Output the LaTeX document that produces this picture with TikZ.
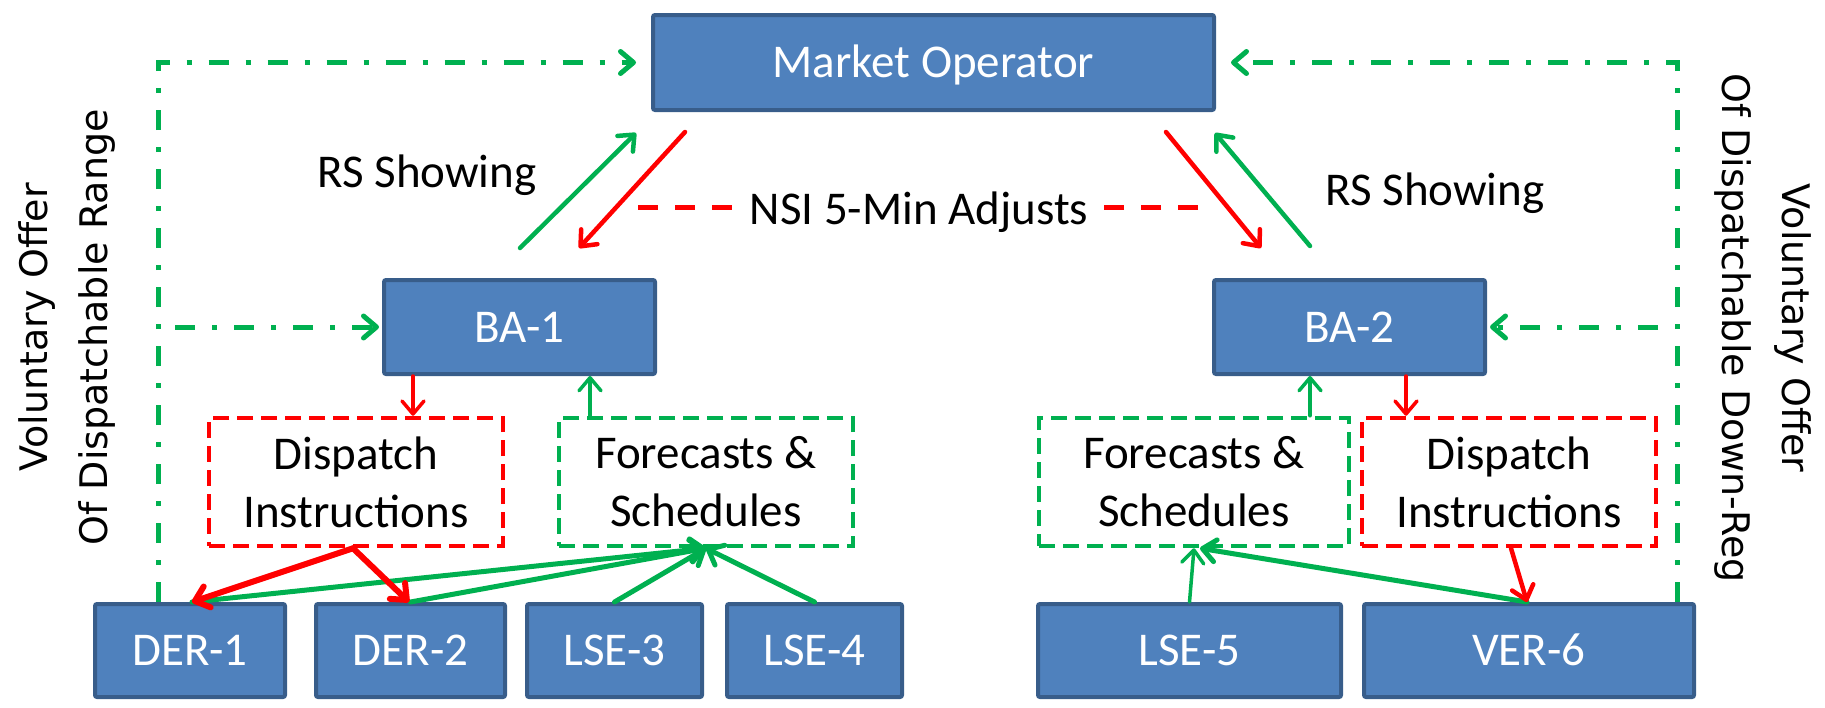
\documentclass[tikz,border=0pt]{standalone}
\usepackage{fontspec}
\setmainfont{Carlito}
\newfontfamily\vertfont{DejaVu Sans}
\usetikzlibrary{arrows.meta}
\definecolor{boxfill}{HTML}{4F81BD}
\definecolor{boxline}{HTML}{385D8A}
\definecolor{pgreen}{HTML}{00B050}
\definecolor{pred}{HTML}{FF0000}
\begin{document}
\begin{tikzpicture}[x=1pt,y=-1pt,
  solidbox/.style={draw=boxline, fill=boxfill, line width=4pt, rounded corners=2pt, text=white,
    font=\fontsize{47}{56}\selectfont, inner sep=0pt, text height=30pt, text depth=0pt},
  dashbox/.style={draw=#1, line width=4.5pt, dash pattern=on 16pt off 8pt,
    font=\fontsize{47}{58}\selectfont, align=center, inner sep=0pt},
  lbl/.style={font=\fontsize{47}{56}\selectfont, anchor=base},
  vlbl/.style={font=\vertfont\fontsize{38}{60}\selectfont, align=center},
  tipa/.style={-{Straight Barb[length=13pt,width=22pt,round]}},
  ddline/.style={draw=pgreen, line width=5pt, dash pattern=on 20pt off 17pt on 5pt off 17pt, tipa},
  garrow/.style={draw=pgreen, line width=4.5pt, tipa, line cap=round},
  rarrow/.style={draw=pred, line width=4.5pt, tipa, line cap=round},
  thin/.style={line width=3.5pt},
  nsiline/.style={draw=pred, line width=5pt, dash pattern=on 20pt off 17pt},
]
\useasboundingbox (0,0) rectangle (1825,707);

% solid boxes
\node[solidbox, minimum width=561pt, minimum height=95pt] (mo) at (933.5,62.5) {Market Operator};
\node[solidbox, minimum width=271pt, minimum height=94pt] (ba1) at (519.5,327) {BA-1};
\node[solidbox, minimum width=271pt, minimum height=94pt] (ba2) at (1349.5,327) {BA-2};
\node[solidbox, minimum width=190pt, minimum height=93pt] (der1) at (190,650.5) {DER-1};
\node[solidbox, minimum width=189pt, minimum height=93pt] (der2) at (410.5,650.5) {DER-2};
\node[solidbox, minimum width=175pt, minimum height=93pt] (lse3) at (614.5,650.5) {LSE-3};
\node[solidbox, minimum width=175pt, minimum height=93pt] (lse4) at (814.5,650.5) {LSE-4};
\node[solidbox, minimum width=303pt, minimum height=93pt] (lse5) at (1189.5,650.5) {LSE-5};
\node[solidbox, minimum width=330pt, minimum height=93pt] (ver6) at (1529,650.5) {VER-6};

% dashed boxes
\node[dashbox=pred, minimum width=294pt, minimum height=128pt] (dis1) at (356,482) {Dispatch\\Instructions};
\node[dashbox=pgreen, minimum width=294pt, minimum height=128pt] (fc1) at (706,482) {Forecasts \&\\Schedules};
\node[dashbox=pgreen, minimum width=310pt, minimum height=128pt] (fc2) at (1194,482) {Forecasts \&\\Schedules};
\node[dashbox=pred, minimum width=294pt, minimum height=128pt] (dis2) at (1509,482) {Dispatch\\Instructions};

% labels
\node[lbl] (rs1) at (427,187) {RS Showing};
\node[lbl] (rs2) at (1435,205) {RS Showing};
\node[lbl] (nsi) at (919,224) {NSI 5-Min Adjusts};
\node[vlbl, rotate=90] (vl) at (67,327.5) {Voluntary Offer\\Of Dispatchable Range};
\node[vlbl, rotate=-90] (vr) at (1763,328) {Voluntary Offer\\Of Dispatchable Down-Reg};

% NSI dashed lines
\coordinate (nl) at (638,207);
\coordinate (nr) at (1198,207);
\draw[nsiline] (nl) -- (nl -| nsi.west);
\draw[nsiline] (nr) -- (nr -| nsi.east);

% diagonal arrows at top
\coordinate (g1a) at (520,248); \coordinate (g1b) at (636,133);
\coordinate (r1a) at (685,132); \coordinate (r1b) at (579,248);
\coordinate (r2a) at (1166,132); \coordinate (r2b) at (1261,248);
\coordinate (g2a) at (1310,246); \coordinate (g2b) at (1215,133);
\draw[garrow] (g1a) -- (g1b);
\draw[rarrow] (r1a) -- (r1b);
\draw[rarrow] (r2a) -- (r2b);
\draw[garrow] (g2a) -- (g2b);

% BA <-> boxes
\coordinate (r1s) at ([xshift=-106.5pt]ba1.south);
\draw[rarrow, thin] (r1s) -- (r1s |- dis1.north);
\coordinate (g1s) at ([xshift=-116pt]fc1.north);
\draw[garrow, thin] (g1s) -- (g1s |- ba1.south);
\coordinate (g2s) at ([xshift=116pt]fc2.north);
\draw[garrow, thin] (g2s) -- (g2s |- ba2.south);
\coordinate (r2s) at ([xshift=56.5pt]ba2.south);
\draw[rarrow, thin] (r2s) -- (r2s |- dis2.north);

% boxes <-> bottom row
\draw[garrow, line width=5pt] ([xshift=2pt]der1.north) -- (fc1.south);
\draw[garrow, line width=5pt] (der2.north) -- (fc1.south);
\draw[garrow, line width=5pt] (lse3.north) -- (fc1.south);
\draw[garrow, line width=5pt] (lse4.north) -- (fc1.south);
\draw[rarrow, line width=6pt] ([xshift=-3pt]dis1.south) -- ([xshift=2pt]der1.north);
\draw[rarrow, line width=6pt] ([xshift=-3pt]dis1.south) -- ([xshift=-1.5pt]der2.north);
\draw[garrow, thin] (lse5.north) -- (fc2.south);
\draw[garrow, line width=5pt] ([xshift=-2pt]ver6.north) -- ([xshift=6pt]fc2.south);
\draw[rarrow] ([xshift=2pt]dis2.south) -- ([xshift=-2pt]ver6.north);

% dash-dot offer lines
\draw[ddline] ([xshift=-32pt]der1.north) |- ([xshift=-15pt]mo.west);
\draw[ddline] ([xshift=148pt]ver6.north) |- ([xshift=15pt]mo.east);
\coordinate (bl) at (175,327);
\draw[ddline] (bl) -- ([xshift=-3pt]ba1.west);
\coordinate (br) at (1658,327);
\draw[ddline] (br) -- ([xshift=3pt]ba2.east);
\end{tikzpicture}
\end{document}
